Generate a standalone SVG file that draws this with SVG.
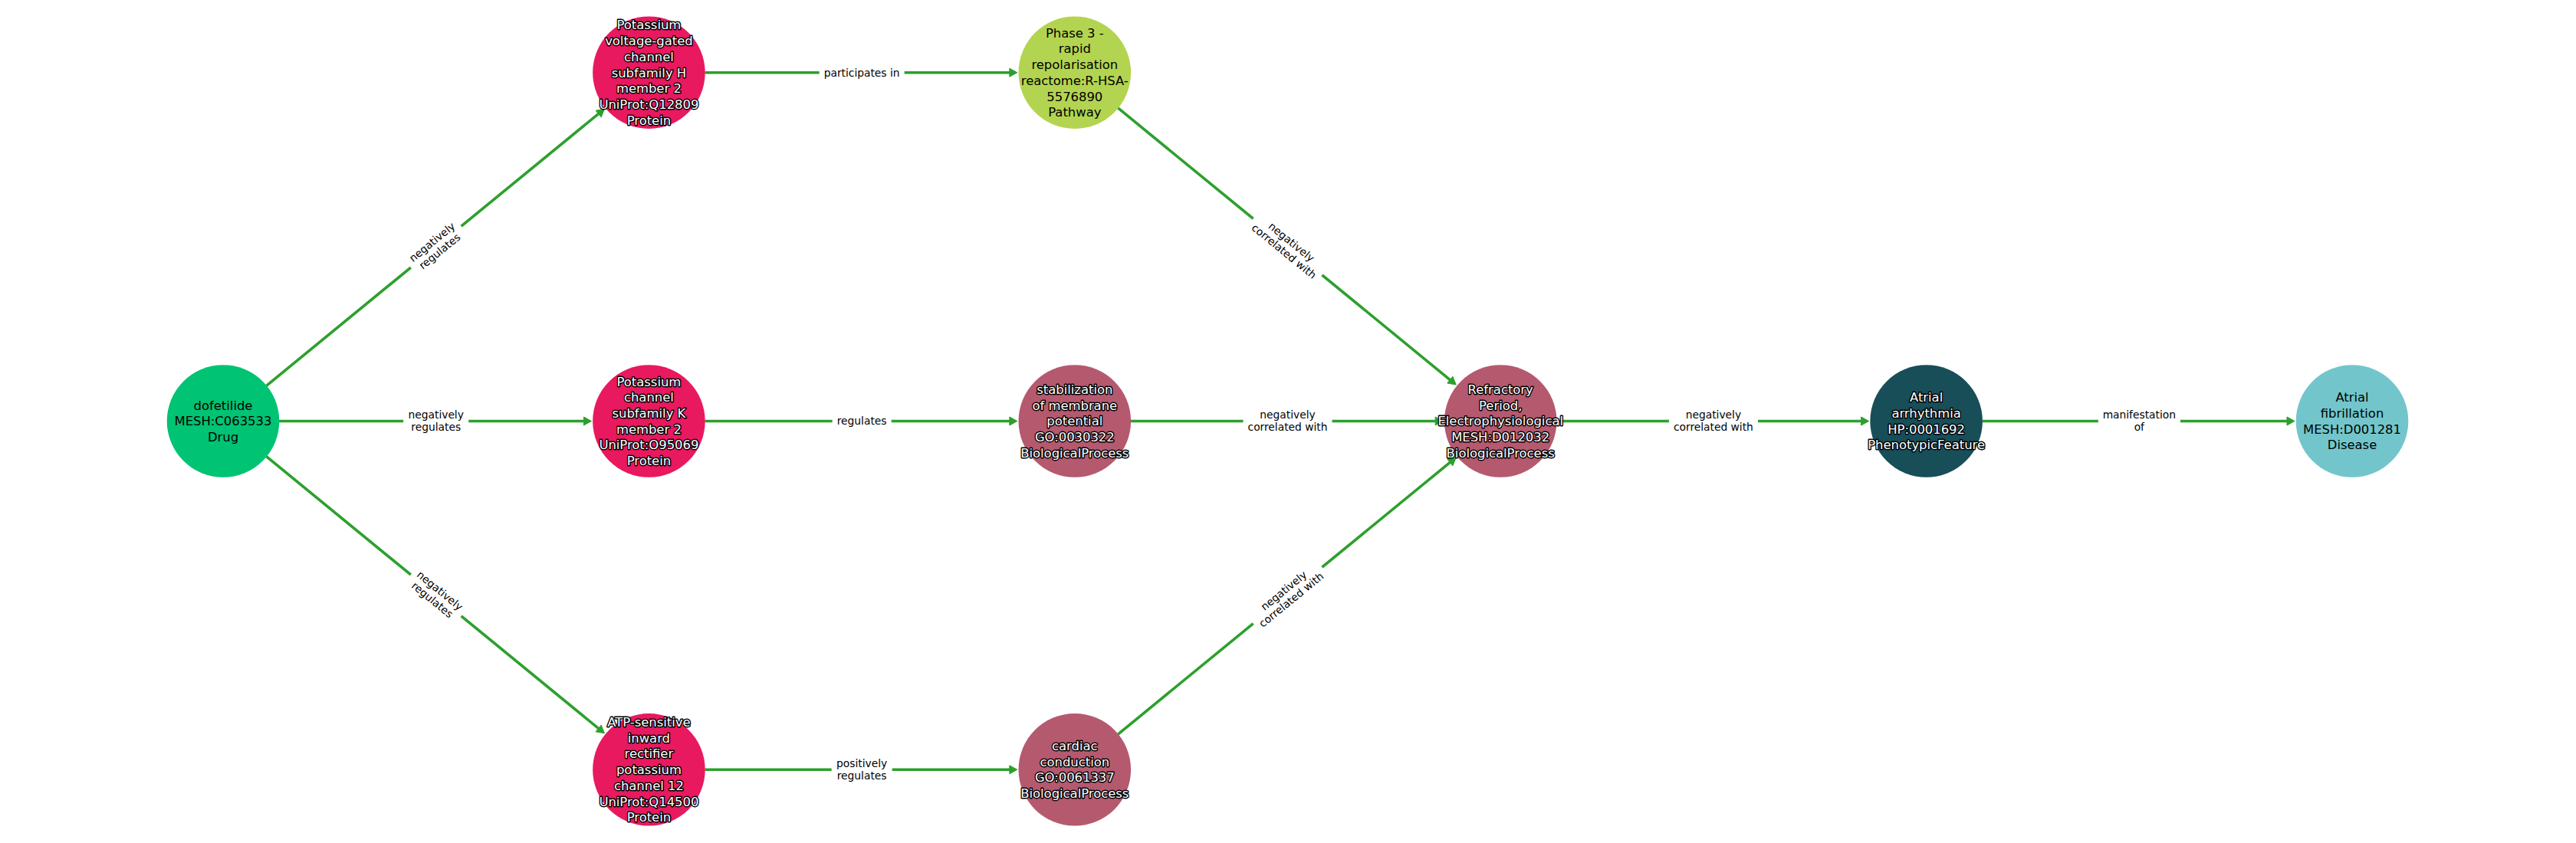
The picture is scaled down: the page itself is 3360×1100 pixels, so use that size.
<svg xmlns="http://www.w3.org/2000/svg" width="3360" height="1100" viewBox="0 0 3360 1100">
<defs>
<style>
.edge{stroke:#2ca02c;stroke-width:3.6;fill:none;marker-end:url(#arr)}
.lbox{fill:#fff;stroke:#fff;stroke-width:1}
.el{font-family:"DejaVu Sans","Liberation Sans",sans-serif;font-size:13.8px;fill:#000;text-anchor:middle}
.nl{font-family:"DejaVu Sans","Liberation Sans",sans-serif;font-size:16.4px;text-anchor:middle}
.dark{fill:#000}
.halo{fill:#fff;stroke:#000;stroke-width:2.8px;paint-order:stroke;stroke-linejoin:round}
.drug{fill:#00c373}
.prot{fill:#e8195f}
.path{fill:#b3d450}
.bp{fill:#b5596f}
.phen{fill:#174e58}
.dis{fill:#72c6cb}
</style>
<marker id="arr" markerUnits="userSpaceOnUse" markerWidth="14" markerHeight="14" refX="1" refY="5.5" orient="auto" overflow="visible">
<path d="M0,0 L10,5.5 L0,11 Z" fill="#2ca02c" stroke="#2ca02c" stroke-width="1" stroke-linejoin="round"/>
</marker>
</defs>
<rect width="3360" height="1100" fill="#fff"/>

<g id="edges">
<line class="edge" x1="347.5" y1="503.3" x2="781.4" y2="147.9"/>
<line class="edge" x1="364" y1="549.5" x2="762.4" y2="549.5"/>
<line class="edge" x1="347.5" y1="595.7" x2="781.4" y2="951.1"/>
<line class="edge" x1="919.4" y1="94.7" x2="1317.8" y2="94.7"/>
<line class="edge" x1="919.4" y1="549.5" x2="1317.8" y2="549.5"/>
<line class="edge" x1="919.4" y1="1004.3" x2="1317.8" y2="1004.3"/>
<line class="edge" x1="1458.3" y1="140.9" x2="1892.2" y2="496.3"/>
<line class="edge" x1="1474.8" y1="549.5" x2="1873.2" y2="549.5"/>
<line class="edge" x1="1458.3" y1="958.1" x2="1892.2" y2="602.7"/>
<line class="edge" x1="2030.2" y1="549.5" x2="2428.6" y2="549.5"/>
<line class="edge" x1="2585.6" y1="549.5" x2="2984" y2="549.5"/>

<g transform="translate(568.7,322.1) rotate(-39.3)"><rect class="lbox" x="-42" y="-19" width="84" height="38" rx="4"/><text class="el"><tspan x="0" y="-3.2">negatively</tspan><tspan x="0" y="12.3">regulates</tspan></text></g>
<g transform="translate(568.7,549.5)"><rect class="lbox" x="-42" y="-19" width="84" height="38" rx="4"/><text class="el"><tspan x="0" y="-3.2">negatively</tspan><tspan x="0" y="12.3">regulates</tspan></text></g>
<g transform="translate(568.7,776.9) rotate(39.3)"><rect class="lbox" x="-42" y="-19" width="84" height="38" rx="4"/><text class="el"><tspan x="0" y="-3.2">negatively</tspan><tspan x="0" y="12.3">regulates</tspan></text></g>
<g transform="translate(1124.1,94.7)"><rect class="lbox" x="-55" y="-11" width="110" height="22" rx="4"/><text class="el" x="0" y="4.8">participates in</text></g>
<g transform="translate(1124.1,549.5)"><rect class="lbox" x="-38" y="-11" width="76" height="22" rx="4"/><text class="el" x="0" y="4.8">regulates</text></g>
<g transform="translate(1124.1,1004.3)"><rect class="lbox" x="-39" y="-19" width="78" height="38" rx="4"/><text class="el"><tspan x="0" y="-3.2">positively</tspan><tspan x="0" y="12.3">regulates</tspan></text></g>
<g transform="translate(1679.5,322.1) rotate(39.3)"><rect class="lbox" x="-57.5" y="-19" width="115" height="38" rx="4"/><text class="el"><tspan x="0" y="-3.2">negatively</tspan><tspan x="0" y="12.3">correlated with</tspan></text></g>
<g transform="translate(1679.5,549.5)"><rect class="lbox" x="-57.5" y="-19" width="115" height="38" rx="4"/><text class="el"><tspan x="0" y="-3.2">negatively</tspan><tspan x="0" y="12.3">correlated with</tspan></text></g>
<g transform="translate(1679.5,776.9) rotate(-39.3)"><rect class="lbox" x="-57.5" y="-19" width="115" height="38" rx="4"/><text class="el"><tspan x="0" y="-3.2">negatively</tspan><tspan x="0" y="12.3">correlated with</tspan></text></g>
<g transform="translate(2234.9,549.5)"><rect class="lbox" x="-57.5" y="-19" width="115" height="38" rx="4"/><text class="el"><tspan x="0" y="-3.2">negatively</tspan><tspan x="0" y="12.3">correlated with</tspan></text></g>
<g transform="translate(2790.3,549.5)"><rect class="lbox" x="-53" y="-19" width="106" height="38" rx="4"/><text class="el"><tspan x="0" y="-3.2">manifestation</tspan><tspan x="0" y="12.3">of</tspan></text></g>
</g>

<g id="n_dofetilide"><circle class="drug" cx="291" cy="549.5" r="73.3"/>
<text class="nl dark"><tspan x="291" y="534.6">dofetilide</tspan><tspan x="291" y="555.3">MESH:C063533</tspan><tspan x="291" y="576">Drug</tspan></text></g>

<g id="n_kcnh2"><circle class="prot" cx="846.4" cy="94.7" r="73.3"/>
<text class="nl halo"><tspan x="846.4" y="38.4">Potassium</tspan><tspan x="846.4" y="59.1">voltage-gated</tspan><tspan x="846.4" y="79.8">channel</tspan><tspan x="846.4" y="100.5">subfamily H</tspan><tspan x="846.4" y="121.2">member 2</tspan><tspan x="846.4" y="141.9">UniProt:Q12809</tspan><tspan x="846.4" y="162.6">Protein</tspan></text></g>

<g id="n_kcnk2"><circle class="prot" cx="846.4" cy="549.5" r="73.3"/>
<text class="nl halo"><tspan x="846.4" y="503.55">Potassium</tspan><tspan x="846.4" y="524.25">channel</tspan><tspan x="846.4" y="544.95">subfamily K</tspan><tspan x="846.4" y="565.65">member 2</tspan><tspan x="846.4" y="586.35">UniProt:O95069</tspan><tspan x="846.4" y="607.05">Protein</tspan></text></g>

<g id="n_kcnj12"><circle class="prot" cx="846.4" cy="1004.3" r="73.3"/>
<text class="nl halo"><tspan x="846.4" y="948">ATP-sensitive</tspan><tspan x="846.4" y="968.7">inward</tspan><tspan x="846.4" y="989.4">rectifier</tspan><tspan x="846.4" y="1010.1">potassium</tspan><tspan x="846.4" y="1030.8">channel 12</tspan><tspan x="846.4" y="1051.5">UniProt:Q14500</tspan><tspan x="846.4" y="1072.2">Protein</tspan></text></g>

<g id="n_phase3"><circle class="path" cx="1401.8" cy="94.7" r="73.3"/>
<text class="nl dark"><tspan x="1401.8" y="48.75">Phase 3 -</tspan><tspan x="1401.8" y="69.45">rapid</tspan><tspan x="1401.8" y="90.15">repolarisation</tspan><tspan x="1401.8" y="110.85">reactome:R-HSA-</tspan><tspan x="1401.8" y="131.55">5576890</tspan><tspan x="1401.8" y="152.25">Pathway</tspan></text></g>

<g id="n_stab"><circle class="bp" cx="1401.8" cy="549.5" r="73.3"/>
<text class="nl halo"><tspan x="1401.8" y="513.9">stabilization</tspan><tspan x="1401.8" y="534.6">of membrane</tspan><tspan x="1401.8" y="555.3">potential</tspan><tspan x="1401.8" y="576">GO:0030322</tspan><tspan x="1401.8" y="596.7">BiologicalProcess</tspan></text></g>

<g id="n_cardiac"><circle class="bp" cx="1401.8" cy="1004.3" r="73.3"/>
<text class="nl halo"><tspan x="1401.8" y="979.05">cardiac</tspan><tspan x="1401.8" y="999.75">conduction</tspan><tspan x="1401.8" y="1020.45">GO:0061337</tspan><tspan x="1401.8" y="1041.15">BiologicalProcess</tspan></text></g>

<g id="n_refractory"><circle class="bp" cx="1957.2" cy="549.5" r="73.3"/>
<text class="nl halo"><tspan x="1957.2" y="513.9">Refractory</tspan><tspan x="1957.2" y="534.6">Period,</tspan><tspan x="1957.2" y="555.3">Electrophysiological</tspan><tspan x="1957.2" y="576">MESH:D012032</tspan><tspan x="1957.2" y="596.7">BiologicalProcess</tspan></text></g>

<g id="n_arrhythmia"><circle class="phen" cx="2512.6" cy="549.5" r="73.3"/>
<text class="nl halo"><tspan x="2512.6" y="524.25">Atrial</tspan><tspan x="2512.6" y="544.95">arrhythmia</tspan><tspan x="2512.6" y="565.65">HP:0001692</tspan><tspan x="2512.6" y="586.35">PhenotypicFeature</tspan></text></g>

<g id="n_fibrillation"><circle class="dis" cx="3068" cy="549.5" r="73.3"/>
<text class="nl dark"><tspan x="3068" y="524.25">Atrial</tspan><tspan x="3068" y="544.95">fibrillation</tspan><tspan x="3068" y="565.65">MESH:D001281</tspan><tspan x="3068" y="586.35">Disease</tspan></text></g>
</svg>
